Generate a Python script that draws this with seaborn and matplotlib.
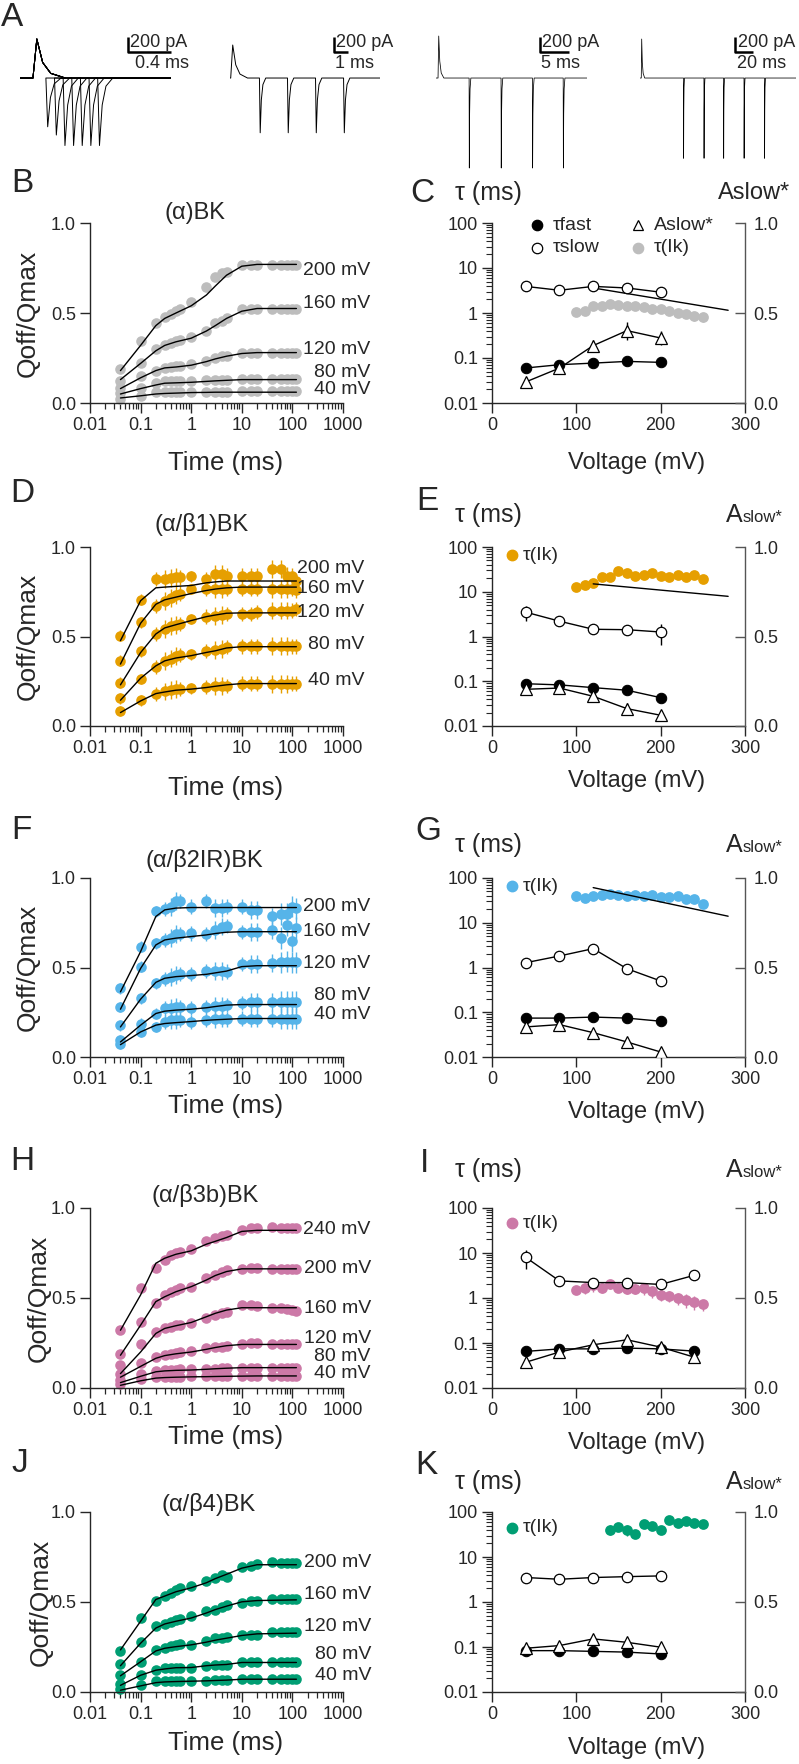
import numpy as np
import pandas as pd
import seaborn as sns
import matplotlib
matplotlib.use("Agg")
import matplotlib.pyplot as plt
from matplotlib.lines import Line2D
from matplotlib.ticker import LogLocator, NullFormatter

sns.set_style("ticks")
plt.rcParams["font.family"] = ["Liberation Sans", "DejaVu Sans"]
plt.rcParams["axes.linewidth"] = 1.0
NARROW = ["Liberation Sans Narrow", "Liberation Sans", "DejaVu Sans"]

W, H = 799, 1764
fig = plt.figure(figsize=(W / 100, H / 100), dpi=100)

def fx(x):
    return x / W

def fy(y):
    return 1 - y / H

def rect(x0, y0, x1, y1):
    return [fx(x0), fy(y1), (x1 - x0) / W, (y1 - y0) / H]

#%% A: gating current traces (ms, pA)
a_dur = [1.4, 10.7, 26.0, 183.0]
a_on_t = [0.12, 0.05, 0.35, 1.5]
a_on_amp = [520, 440, 560, 520]
a_on_len = [0.3, 1.2, 1.0, 4.0]
a_off_t = [[0.24, 0.32, 0.40, 0.48, 0.56, 0.64, 0.72],
           [2.1, 4.1, 6.1, 8.1],
           [5.7, 11.2, 16.6, 21.9],
           [51, 75, 98, 122, 146]]
a_off_amp = [[-650, -760, -900, -900, -900, -900, -900],
             [-730, -730, -730, -730],
             [-1200, -1200, -1200, -1200],
             [-1070, -1070, -1070, -1070, -1070]]
a_off_len = [0.14, 0.45, 0.3, 1.2]
a_lw = [0.7, 0.7, 0.55, 0.55]
a_bar_t = [1.0, 7.4, 17.9, 112.0]
a_bar_ms = [0.4, 1, 5, 20]
a_bar_lab = ["0.4 ms", "1 ms", "5 ms", "20 ms"]
# transient template: fraction of duration / fraction of amplitude
shape_t = [0, 0.12, 0.3, 0.55, 1.0]
shape_a = [0, 1, 0.4, 0.12, 0]

#%% left column: Qoff/Qmax vs time
t_pts = [0.04, 0.1, 0.2, 0.3, 0.4, 0.5, 0.6, 1, 2, 3, 4, 5, 10, 15, 20, 40, 60, 80, 100, 120]
t_fit = [0.04, 0.1, 0.2, 0.3, 0.5, 1, 2, 3, 5, 10, 20, 120]

B_200 = [0.187, 0.346, 0.443, 0.477, 0.495, 0.51, 0.523, 0.56, 0.645, 0.70, 0.72, 0.73, 0.766, 0.766, 0.766, 0.766, 0.766, 0.766, 0.766, 0.766]
B_160 = [0.12, 0.224, 0.30, 0.323, 0.336, 0.346, 0.35, 0.364, 0.40, 0.443, 0.458, 0.473, 0.523, 0.523, 0.523, 0.525, 0.525, 0.525, 0.525, 0.525]
B_120 = [0.084, 0.15, 0.178, 0.196, 0.20, 0.205, 0.205, 0.215, 0.234, 0.252, 0.26, 0.26, 0.28, 0.28, 0.28, 0.28, 0.28, 0.28, 0.28, 0.28]
B_80 = [0.056, 0.084, 0.112, 0.12, 0.12, 0.12, 0.12, 0.125, 0.13, 0.13, 0.13, 0.13, 0.135, 0.135, 0.135, 0.135, 0.135, 0.135, 0.135, 0.135]
B_40 = [0.024, 0.037, 0.06, 0.06, 0.06, 0.06, 0.06, 0.06, 0.06, 0.06, 0.062, 0.062, 0.065, 0.065, 0.065, 0.065, 0.065, 0.065, 0.065, 0.065]
B_200_fit = [0.18, 0.32, 0.43, 0.47, 0.50, 0.54, 0.60, 0.65, 0.71, 0.76, 0.77, 0.77]
B_160_fit = [0.13, 0.22, 0.29, 0.32, 0.34, 0.36, 0.40, 0.43, 0.47, 0.51, 0.525, 0.525]
B_120_fit = [0.08, 0.14, 0.18, 0.195, 0.20, 0.21, 0.23, 0.245, 0.26, 0.275, 0.28, 0.28]
B_80_fit = [0.05, 0.08, 0.10, 0.11, 0.112, 0.115, 0.12, 0.123, 0.126, 0.13, 0.13, 0.13]
B_40_fit = [0.028, 0.04, 0.05, 0.053, 0.055, 0.058, 0.059, 0.06, 0.06, 0.06, 0.06, 0.06]

D_200 = [0.505, 0.705, 0.822, 0.822, 0.826, 0.83, 0.83, 0.836, 0.822, 0.85, 0.85, 0.84, 0.84, 0.84, 0.84, 0.878, 0.878, 0.84, 0.84, 0.81]
D_160 = [0.364, 0.58, 0.67, 0.70, 0.715, 0.73, 0.74, 0.766, 0.766, 0.766, 0.766, 0.766, 0.766, 0.766, 0.766, 0.766, 0.766, 0.766, 0.766, 0.757]
D_120 = [0.243, 0.417, 0.514, 0.542, 0.561, 0.566, 0.57, 0.598, 0.611, 0.617, 0.62, 0.626, 0.626, 0.626, 0.636, 0.645, 0.645, 0.645, 0.645, 0.654]
D_80 = [0.155, 0.262, 0.33, 0.364, 0.377, 0.389, 0.398, 0.40, 0.42, 0.424, 0.43, 0.44, 0.445, 0.445, 0.445, 0.445, 0.445, 0.445, 0.445, 0.445]
D_40 = [0.084, 0.144, 0.178, 0.193, 0.200, 0.206, 0.208, 0.211, 0.219, 0.222, 0.224, 0.224, 0.237, 0.237, 0.237, 0.237, 0.237, 0.237, 0.237, 0.237]
D_200_fit = [0.477, 0.70, 0.772, 0.776, 0.78, 0.785, 0.80, 0.805, 0.81, 0.81, 0.81, 0.81]
D_160_fit = [0.346, 0.574, 0.68, 0.705, 0.72, 0.74, 0.757, 0.765, 0.772, 0.776, 0.776, 0.776]
D_120_fit = [0.23, 0.41, 0.514, 0.548, 0.566, 0.589, 0.611, 0.62, 0.63, 0.632, 0.632, 0.632]
D_80_fit = [0.144, 0.267, 0.336, 0.364, 0.38, 0.393, 0.411, 0.42, 0.436, 0.443, 0.443, 0.443]
D_40_fit = [0.075, 0.14, 0.181, 0.19, 0.20, 0.206, 0.215, 0.222, 0.23, 0.237, 0.237, 0.237]
D_err = [0.03, 0.03, 0.04, 0.05, 0.05, 0.05, 0.04, 0.03, 0.04, 0.05, 0.05, 0.04, 0.04, 0.04, 0.04, 0.05, 0.05, 0.05, 0.04, 0.04]

F_200 = [0.383, 0.617, 0.813, 0.828, 0.84, 0.87, 0.87, 0.84, 0.873, 0.83, 0.83, 0.84, 0.84, 0.82, 0.82, 0.785, 0.80, 0.80, 0.84, 0.83]
F_160 = [0.28, 0.505, 0.636, 0.654, 0.664, 0.686, 0.686, 0.69, 0.686, 0.71, 0.729, 0.73, 0.70, 0.70, 0.70, 0.71, 0.664, 0.738, 0.649, 0.72]
F_120 = [0.178, 0.327, 0.411, 0.436, 0.449, 0.458, 0.462, 0.462, 0.48, 0.48, 0.48, 0.477, 0.518, 0.518, 0.518, 0.523, 0.529, 0.533, 0.529, 0.529]
F_80 = [0.093, 0.187, 0.243, 0.271, 0.275, 0.28, 0.28, 0.275, 0.28, 0.286, 0.286, 0.29, 0.30, 0.308, 0.308, 0.308, 0.308, 0.308, 0.308, 0.308]
F_40 = [0.075, 0.14, 0.168, 0.196, 0.205, 0.205, 0.205, 0.196, 0.205, 0.21, 0.215, 0.21, 0.215, 0.215, 0.215, 0.215, 0.215, 0.215, 0.215, 0.215]
F_200_fit = [0.364, 0.589, 0.785, 0.822, 0.832, 0.835, 0.835, 0.835, 0.835, 0.835, 0.835, 0.835]
F_160_fit = [0.267, 0.495, 0.626, 0.654, 0.664, 0.673, 0.682, 0.69, 0.697, 0.70, 0.70, 0.70]
F_120_fit = [0.168, 0.323, 0.417, 0.44, 0.449, 0.455, 0.462, 0.47, 0.48, 0.505, 0.51, 0.51]
F_80_fit = [0.084, 0.178, 0.243, 0.256, 0.262, 0.267, 0.275, 0.282, 0.29, 0.293, 0.293, 0.293]
F_40_fit = [0.069, 0.14, 0.178, 0.187, 0.192, 0.198, 0.205, 0.208, 0.211, 0.215, 0.215, 0.215]
F_err = [0.03, 0.03, 0.03, 0.04, 0.05, 0.05, 0.04, 0.04, 0.04, 0.05, 0.05, 0.04, 0.04, 0.05, 0.05, 0.05, 0.06, 0.06, 0.06, 0.06]

H_240 = [0.321, 0.554, 0.665, 0.712, 0.74, 0.749, 0.758, 0.773, 0.814, 0.833, 0.842, 0.851, 0.879, 0.888, 0.888, 0.892, 0.888, 0.888, 0.888, 0.888]
H_200 = [0.191, 0.368, 0.47, 0.517, 0.535, 0.545, 0.554, 0.563, 0.61, 0.628, 0.647, 0.656, 0.662, 0.665, 0.665, 0.662, 0.662, 0.662, 0.662, 0.662]
H_160 = [0.126, 0.245, 0.312, 0.331, 0.34, 0.349, 0.352, 0.359, 0.387, 0.405, 0.415, 0.42, 0.461, 0.461, 0.457, 0.446, 0.443, 0.44, 0.433, 0.428]
H_120 = [0.08, 0.14, 0.173, 0.185, 0.19, 0.195, 0.2, 0.207, 0.22, 0.226, 0.23, 0.235, 0.245, 0.25, 0.25, 0.242, 0.242, 0.242, 0.242, 0.242]
H_80 = [0.045, 0.08, 0.093, 0.098, 0.1, 0.102, 0.103, 0.104, 0.106, 0.108, 0.11, 0.11, 0.113, 0.113, 0.113, 0.113, 0.113, 0.113, 0.113, 0.113]
H_40 = [0.024, 0.052, 0.063, 0.06, 0.062, 0.062, 0.063, 0.064, 0.064, 0.065, 0.065, 0.065, 0.067, 0.067, 0.067, 0.067, 0.067, 0.067, 0.067, 0.067]
H_240_fit = [0.321, 0.517, 0.693, 0.721, 0.743, 0.762, 0.799, 0.815, 0.836, 0.87, 0.876, 0.876]
H_200_fit = [0.182, 0.349, 0.48, 0.507, 0.535, 0.563, 0.60, 0.625, 0.647, 0.662, 0.662, 0.662]
H_160_fit = [0.08, 0.20, 0.303, 0.331, 0.346, 0.364, 0.396, 0.415, 0.433, 0.446, 0.446, 0.446]
H_120_fit = [0.06, 0.12, 0.165, 0.18, 0.19, 0.20, 0.215, 0.225, 0.235, 0.242, 0.242, 0.242]
H_80_fit = [0.03, 0.065, 0.09, 0.095, 0.098, 0.10, 0.104, 0.107, 0.11, 0.113, 0.113, 0.113]
H_40_fit = [0.015, 0.04, 0.055, 0.058, 0.06, 0.062, 0.063, 0.064, 0.065, 0.066, 0.067, 0.067]

J_200 = [0.228, 0.411, 0.505, 0.533, 0.551, 0.564, 0.579, 0.589, 0.617, 0.636, 0.65, 0.64, 0.692, 0.70, 0.71, 0.72, 0.714, 0.714, 0.714, 0.714]
J_160 = [0.153, 0.28, 0.364, 0.378, 0.389, 0.402, 0.407, 0.42, 0.449, 0.458, 0.471, 0.482, 0.495, 0.505, 0.508, 0.514, 0.514, 0.514, 0.514, 0.514]
J_120 = [0.093, 0.168, 0.234, 0.247, 0.255, 0.262, 0.265, 0.262, 0.284, 0.299, 0.301, 0.303, 0.318, 0.318, 0.318, 0.333, 0.333, 0.333, 0.333, 0.333]
J_80 = [0.047, 0.093, 0.121, 0.131, 0.134, 0.134, 0.134, 0.136, 0.146, 0.148, 0.15, 0.15, 0.164, 0.164, 0.164, 0.164, 0.164, 0.164, 0.164, 0.164]
J_40 = [0.019, 0.037, 0.06, 0.06, 0.06, 0.06, 0.06, 0.06, 0.062, 0.064, 0.065, 0.066, 0.071, 0.071, 0.071, 0.071, 0.071, 0.071, 0.071, 0.071]
J_200_fit = [0.234, 0.393, 0.514, 0.533, 0.557, 0.579, 0.607, 0.63, 0.654, 0.688, 0.707, 0.707]
J_160_fit = [0.146, 0.271, 0.355, 0.378, 0.393, 0.411, 0.439, 0.458, 0.477, 0.501, 0.508, 0.512]
J_120_fit = [0.09, 0.168, 0.228, 0.243, 0.252, 0.262, 0.277, 0.288, 0.299, 0.314, 0.323, 0.327]
J_80_fit = [0.037, 0.093, 0.121, 0.128, 0.135, 0.136, 0.146, 0.15, 0.153, 0.164, 0.164, 0.164]
J_40_fit = [0.01, 0.034, 0.052, 0.056, 0.058, 0.06, 0.062, 0.064, 0.066, 0.071, 0.071, 0.071]

#%% right column: time constants vs voltage
V5 = [40, 80, 120, 160, 200]
V6 = [40, 80, 120, 160, 200, 240]
V_ik = [100, 110, 120, 130, 140, 150, 160, 170, 180, 190, 200, 210, 220, 230, 240, 250]
V_ik_K = [140, 150, 160, 170, 180, 190, 200, 210, 220, 230, 240, 250]
V_fit = [120, 280]

C_fast = [0.060, 0.071, 0.077, 0.084, 0.080]
C_slow = [3.9, 3.2, 3.9, 3.6, 2.9]
C_slow_err = [0, 0, 0.7, 0.7, 0]
C_aslow = [0.117, 0.194, 0.319, 0.402, 0.361]
C_aslow_err = [0, 0, 0.03, 0.05, 0.04]
C_ik = [1.03, 1.12, 1.41, 1.45, 1.61, 1.53, 1.45, 1.41, 1.35, 1.2, 1.2, 1.09, 1.0, 0.93, 0.85, 0.82]
C_ik_err = [0.1, 0.1, 0.15, 0.15, 0.2, 0.15, 0.15, 0.15, 0.15, 0.15, 0.15, 0.15, 0.15, 0.15, 0.2, 0.2]
C_fit = [3.6, 1.15]

E_fast = [0.088, 0.083, 0.072, 0.063, 0.043]
E_slow = [3.5, 2.2, 1.45, 1.42, 1.26]
E_slow_err = [1.3, 0.3, 0.3, 0.3, 0.6]
E_aslow = [0.205, 0.212, 0.166, 0.097, 0.06]
E_aslow_err = [0.02, 0.03, 0.03, 0.03, 0]
E_ik = [12.8, 13.9, 16, 21.4, 21.4, 29, 26.7, 22.5, 24, 26.7, 22.5, 21.4, 23.2, 21.4, 23.2, 19.6]
E_ik_err = [1.5, 1.5, 2, 2, 2, 3, 3, 2, 2, 3, 2, 2, 2, 2, 2, 2]
E_fit = [15, 7.9]

G_fast = [0.074, 0.074, 0.078, 0.074, 0.063]
G_slow = [1.28, 1.81, 2.64, 0.94, 0.5]
G_slow_err = [0, 0, 0, 0, 0]
G_aslow = [0.168, 0.181, 0.136, 0.084, 0.028]
G_aslow_err = [0, 0, 0, 0, 0]
G_ik = [39, 36, 40, 42, 44, 42, 39, 41, 40, 41, 38, 37, 40, 34, 34, 26]
G_ik_err = [5, 7, 5, 5, 5, 5, 5, 5, 5, 5, 5, 5, 5, 5, 5, 4]
G_fit = [61, 14]

I_fast = [0.065, 0.074, 0.074, 0.077, 0.074, 0.066]
I_slow = [8.0, 2.4, 2.2, 2.2, 2.0, 3.2]
I_slow_err = [3.5, 0.3, 0.5, 0.4, 0.4, 0.6]
I_aslow = [0.143, 0.2, 0.24, 0.268, 0.227, 0.171]
I_aslow_err = [0.03, 0.03, 0, 0, 0.03, 0.02]
I_ik = [1.5, 1.7, 1.94, 1.7, 2.0, 1.65, 1.6, 1.6, 1.65, 1.4, 1.16, 1.1, 1.0, 0.9, 0.83, 0.72]
I_ik_err = [0.3, 0.5, 0.6, 0.4, 0.4, 0.3, 0.4, 0.4, 0.5, 0.4, 0.3, 0.3, 0.3, 0.3, 0.3, 0.2]

K_fast = [0.083, 0.083, 0.08, 0.077, 0.070]
K_slow = [3.5, 3.2, 3.5, 3.66, 3.8]
K_slow_err = [0.6, 0.6, 0.6, 0.6, 0.6]
K_aslow = [0.243, 0.258, 0.295, 0.276, 0.249]
K_aslow_err = [0.02, 0.02, 0.02, 0.02, 0.02]
K_ik = [40.6, 45.8, 40.6, 33.2, 54.3, 48.2, 39.4, 65.5, 57.2, 62.3, 57.2, 54.3]
K_ik_err = [10, 8, 12, 7, 6, 6, 6, 5, 5, 5, 5, 5]

#%% colors
GRAY = "#bdbdbd"
ORANGE = "#E69F00"
BLUE = "#56B4E9"
PINK = "#CC79A7"
GREEN = "#009E73"

#%% layout (pixels of the 799x1764 canvas)
row_top = [223, 547, 878, 1208, 1512]
row_bot = [403, 726, 1057, 1388, 1692]
LX0, LX1 = 90, 343
RX0, RX1 = 492, 745

#%% panel A
a_px = [(20, 171), (230, 380), (436, 587), (640, 796)]
for i in range(4):
    ax = fig.add_axes(rect(a_px[i][0], 25, a_px[i][1], 175))
    ax.set_xlim(0, a_dur[i])
    ax.set_ylim(-1293, 707)
    ax.axis("off")
    on_x = [a_on_t[i] + f * a_on_len[i] for f in shape_t]
    on_y = [a_on_amp[i] * g for g in shape_a]
    if i == 0:
        sweeps = [[k] for k in range(len(a_off_t[0]))]
    else:
        sweeps = [list(range(len(a_off_t[i])))]
    for sw in sweeps:
        xs = [0] + on_x
        ys = [0] + on_y
        for k in sw:
            xs += [a_off_t[i][k] + f * a_off_len[i] for f in shape_t]
            ys += [a_off_amp[i][k] * g for g in shape_a]
        xs += [a_dur[i]]
        ys += [0]
        sns.lineplot(x=xs, y=ys, ax=ax, color="k", lw=a_lw[i], sort=False,
                     estimator=None)
    bt = a_bar_t[i]
    ax.plot([bt, bt, bt + a_bar_ms[i]], [547, 347, 347], color="k", lw=1.8,
            clip_on=False, solid_capstyle="butt")
    ax.annotate("200 pA", xy=(bt, 347), xytext=(1.5, 0.5), textcoords="offset points",
                ha="left", va="bottom", fontsize=13, family=NARROW)
    ax.annotate(a_bar_lab[i], xy=(bt, 347), xytext=(5 if i == 0 else 1, -2),
                textcoords="offset points", ha="left", va="top", fontsize=13,
                family=NARROW)
fig.text(fx(12), fy(18), "A", fontsize=24, ha="center", va="center")

#%% left column
left_panels = [
    ("(α)BK", GRAY, [B_200, B_160, B_120, B_80, B_40],
     [B_200_fit, B_160_fit, B_120_fit, B_80_fit, B_40_fit], None,
     ["200 mV", "160 mV", "120 mV", "80 mV", "40 mV"], [0.738, 0.551, 0.30, 0.168, 0.075]),
    ("(α/β1)BK", ORANGE, [D_200, D_160, D_120, D_80, D_40],
     [D_200_fit, D_160_fit, D_120_fit, D_80_fit, D_40_fit], D_err,
     ["200 mV", "160 mV", "120 mV", "80 mV", "40 mV"], [0.882, 0.766, 0.636, 0.458, 0.256]),
    ("(α/β2IR)BK", BLUE, [F_200, F_160, F_120, F_80, F_40],
     [F_200_fit, F_160_fit, F_120_fit, F_80_fit, F_40_fit], F_err,
     ["200 mV", "160 mV", "120 mV", "80 mV", "40 mV"], [0.841, 0.70, 0.523, 0.346, 0.237]),
    ("(α/β3b)BK", PINK, [H_240, H_200, H_160, H_120, H_80, H_40],
     [H_240_fit, H_200_fit, H_160_fit, H_120_fit, H_80_fit, H_40_fit], None,
     ["240 mV", "200 mV", "160 mV", "120 mV", "80 mV", "40 mV"],
     [0.879, 0.662, 0.442, 0.275, 0.173, 0.08]),
    ("(α/β4)BK", GREEN, [J_200, J_160, J_120, J_80, J_40],
     [J_200_fit, J_160_fit, J_120_fit, J_80_fit, J_40_fit], None,
     ["200 mV", "160 mV", "120 mV", "80 mV", "40 mV"], [0.72, 0.542, 0.364, 0.206, 0.093]),
]
left_letters = ["B", "D", "F", "H", "J"]
left_letter_xy = [(22, 183), (22, 494), (21, 830), (22, 1162), (20, 1464)]
title_xy = [(0.415, 1.056), (0.44, 1.123), (0.45, 1.10), (0.455, 1.067), (0.467, 1.04)]
ylab_x = [28, 28, 28, 39, 41]
xlab_y = [463, 788, 1106, 1437, 1743]
vlab_x = [1.107, 1.085, 1.108, 1.11, 1.112]

for r, (title, color, curves, fits, err, vlabels, vy) in enumerate(left_panels):
    ax = fig.add_axes(rect(LX0, row_top[r], LX1, row_bot[r]))
    for vals, fit in zip(curves, fits):
        if err is not None:
            ax.errorbar(t_pts, vals, yerr=err, fmt="none", ecolor=color,
                        elinewidth=1.0, capsize=0, zorder=1)
        sns.scatterplot(x=t_pts, y=vals, ax=ax, color=color, s=58, linewidth=0,
                        zorder=2, clip_on=False, legend=False)
        sns.lineplot(x=t_fit, y=fit, ax=ax, color="k", lw=1.0, zorder=3,
                     estimator=None, sort=False)
    ax.set_xscale("log")
    ax.set_xlim(0.01, 1000)
    ax.set_ylim(0, 1)
    ax.set_xticks([0.01, 0.1, 1, 10, 100, 1000])
    ax.set_xticklabels(["0.01", "0.1", "1", "10", "100", "1000"])
    ax.xaxis.set_minor_locator(LogLocator(base=10, subs=np.arange(2, 10), numticks=20))
    ax.xaxis.set_minor_formatter(NullFormatter())
    ax.set_yticks([0, 0.5, 1.0])
    ax.set_yticklabels(["0.0", "0.5", "1.0"])
    ax.tick_params(axis="both", which="major", length=7, width=1.0, labelsize=13,
                   pad=3, direction="out")
    ax.tick_params(axis="x", which="minor", length=4, width=0.9, direction="out")
    sns.despine(ax=ax)
    ax.set_xlabel("")
    ax.set_ylabel("")
    ax.text(title_xy[r][0], title_xy[r][1], title, transform=ax.transAxes,
            ha="center", va="center", fontsize=17)
    for lab, yv in zip(vlabels, vy):
        ax.text(vlab_x[r], yv, lab, transform=ax.get_yaxis_transform(),
                ha="right", va="center", fontsize=14, clip_on=False)
    yc = (row_top[r] + row_bot[r]) / 2
    fig.text(fx(ylab_x[r]), fy(yc), "Qoff/Qmax", rotation=90, ha="center",
             va="center", fontsize=19)
    fig.text(fx(226), fy(xlab_y[r]), "Time (ms)", ha="center", va="center",
             fontsize=18.5)
    lx, ly = left_letter_xy[r]
    fig.text(fx(lx), fy(ly), left_letters[r], fontsize=24, ha="center", va="center")

#%% right column
right_panels = [
    (GRAY, V5, C_fast, C_slow, C_slow_err, C_aslow, C_aslow_err, V_ik, C_ik, C_ik_err, C_fit),
    (ORANGE, V5, E_fast, E_slow, E_slow_err, E_aslow, E_aslow_err, V_ik, E_ik, E_ik_err, E_fit),
    (BLUE, V5, G_fast, G_slow, G_slow_err, G_aslow, G_aslow_err, V_ik, G_ik, G_ik_err, G_fit),
    (PINK, V6, I_fast, I_slow, I_slow_err, I_aslow, I_aslow_err, V_ik, I_ik, I_ik_err, None),
    (GREEN, V5, K_fast, K_slow, K_slow_err, K_aslow, K_aslow_err, V_ik_K, K_ik, K_ik_err, None),
]
right_letters = ["C", "E", "G", "I", "K"]
right_letter_xy = [(422, 193), (427, 502), (428, 832), (424, 1164), (426, 1465)]
tau_y = [193, 515, 845, 1170, 1482]
rxlab_y = [463, 781, 1112, 1443, 1748]
leg_y = [None, 555, 886, 1223, 1528]
MS = 7.5

renderer = fig.canvas.get_renderer()
for r, (color, V, fast, slow, slow_err, aslow, aslow_err, vik, ik, ik_err, fit) in enumerate(right_panels):
    ax = fig.add_axes(rect(RX0, row_top[r], RX1, row_bot[r]))
    ax2 = ax.twinx()
    ax.errorbar(vik, ik, yerr=ik_err, fmt="none", ecolor=color, elinewidth=1.0,
                capsize=0, zorder=1)
    sns.scatterplot(x=vik, y=ik, ax=ax, color=color, s=60, linewidth=0, zorder=2,
                    legend=False)
    if fit is not None:
        sns.lineplot(x=V_fit, y=fit, ax=ax, color="k", lw=1.0, zorder=3,
                     estimator=None, sort=False)
    ax.errorbar(V, slow, yerr=slow_err, fmt="none", ecolor="k", elinewidth=1.0,
                capsize=0, zorder=3)
    sns.lineplot(x=V, y=slow, ax=ax, color="k", lw=1.0, marker="o", markersize=MS,
                 markerfacecolor="white", markeredgecolor="k", markeredgewidth=0.9,
                 zorder=4, estimator=None, sort=False)
    sns.lineplot(x=V, y=fast, ax=ax, color="k", lw=1.0, marker="o", markersize=MS,
                 markerfacecolor="k", markeredgecolor="k", zorder=4,
                 estimator=None, sort=False)
    ax2.errorbar(V, aslow, yerr=aslow_err, fmt="none", ecolor="k", elinewidth=1.0,
                 capsize=0, zorder=3)
    sns.lineplot(x=V, y=aslow, ax=ax2, color="k", lw=1.0, marker="^", markersize=MS + 0.5,
                 markerfacecolor="white", markeredgecolor="k", markeredgewidth=0.9,
                 zorder=4, estimator=None, sort=False)

    ax.set_yscale("log")
    ax.set_ylim(0.01, 100)
    ax.set_xlim(0, 300)
    ax.set_yticks([0.01, 0.1, 1, 10, 100])
    ax.set_yticklabels(["0.01", "0.1", "1", "10", "100"])
    ax.yaxis.set_minor_locator(LogLocator(base=10, subs=np.arange(2, 10), numticks=20))
    ax.yaxis.set_minor_formatter(NullFormatter())
    ax.set_xticks([0, 100, 200, 300])
    ax.set_xticklabels(["0", "100", "200", "300"])
    ax.tick_params(axis="both", which="major", length=7, width=1.0, labelsize=13,
                   pad=3, direction="out", right=False)
    ax.tick_params(axis="y", which="minor", length=4, width=0.8, direction="out",
                   right=False)
    for s in ["top", "right"]:
        ax.spines[s].set_visible(False)
    ax2.set_ylim(0, 1)
    ax2.set_yticks([0, 0.5, 1.0])
    ax2.set_yticklabels(["0.0", "0.5", "1.0"])
    ax2.tick_params(axis="y", length=7, width=1.0, labelsize=13, direction="in", pad=6)
    for s in ["top", "left", "bottom"]:
        ax2.spines[s].set_visible(False)
    ax2.spines["right"].set_color("#555555")
    ax2.tick_params(axis="y", color="#555555")
    for a in (ax, ax2):
        a.set_xlabel("")
        a.set_ylabel("")

    fig.text(fx(637), fy(rxlab_y[r]), "Voltage (mV)", ha="center", va="center",
             fontsize=17)
    fig.text(fx(488), fy(tau_y[r]), "τ (ms)", ha="center", va="center", fontsize=18)
    if r == 0:
        fig.text(fx(790), fy(tau_y[r]), "Aslow*", ha="right", va="center", fontsize=17)
        leg = [((537, 225), "o", "k", "k", "τfast"),
               ((537, 248), "o", "white", "k", "τslow"),
               ((638, 225), "^", "white", "k", "Aslow*"),
               ((638, 248), "o", GRAY, GRAY, "τ(Ik)")]
        for (mx, my), mk, fc, ec, lab in leg:
            fig.add_artist(Line2D([fx(mx)], [fy(my)], marker=mk, markersize=MS,
                                  markerfacecolor=fc, markeredgecolor=ec,
                                  markeredgewidth=0.9, linestyle="none",
                                  transform=fig.transFigure))
            fig.text(fx(mx + 16), fy(my), lab, ha="left", va="center", fontsize=14)
    else:
        base = tau_y[r] + 7
        t_small = fig.text(fx(782), fy(base), "slow*", ha="right", va="baseline",
                           fontsize=12)
        bb = t_small.get_window_extent(renderer=renderer)
        fig.text(bb.x0 / fig.bbox.width, fy(base), "A", ha="right", va="baseline",
                 fontsize=18)
        fig.add_artist(Line2D([fx(512)], [fy(leg_y[r])], marker="o", markersize=MS,
                              markerfacecolor=color, markeredgecolor=color,
                              linestyle="none", transform=fig.transFigure))
        fig.text(fx(523), fy(leg_y[r]), "τ(Ik)", ha="left", va="center", fontsize=14)
    lx, ly = right_letter_xy[r]
    fig.text(fx(lx), fy(ly), right_letters[r], fontsize=24, ha="center", va="center")

fig.savefig("out.png", dpi=100)
